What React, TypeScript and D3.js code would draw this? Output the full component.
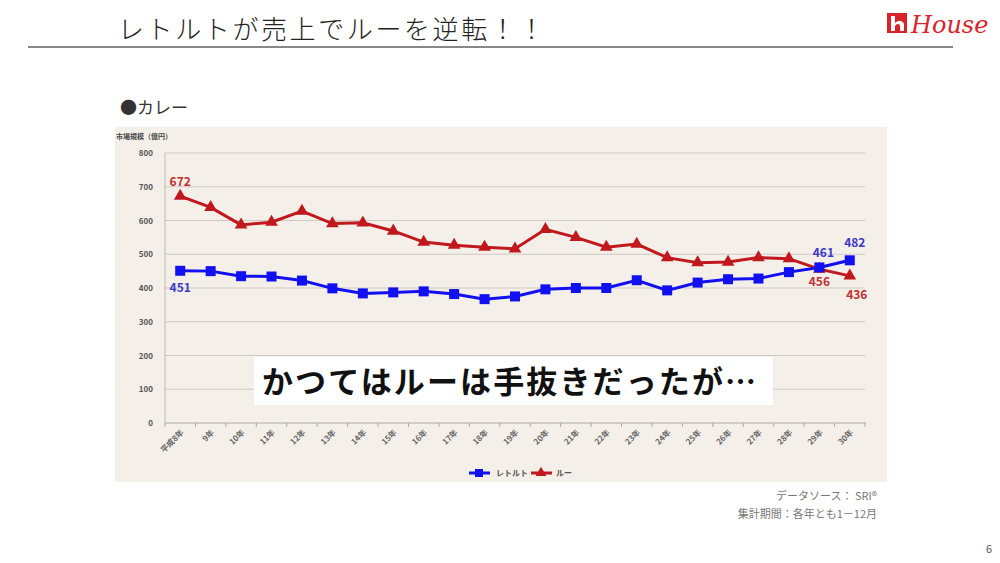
import React from "react";
import * as d3 from "d3";

const years = [
  "平成8年", "9年", "10年", "11年", "12年", "13年", "14年", "15年", "16年", "17年", "18年", "19年",
  "20年", "21年", "22年", "23年", "24年", "25年", "26年", "27年", "28年", "29年", "30年",
];
const retort = [451, 450, 435, 434, 422, 399, 384, 387, 390, 382, 367, 375, 396, 400, 400, 423, 393, 416, 426, 428, 447, 461, 482];
const roux = [672, 639, 587, 595, 628, 591, 593, 569, 536, 527, 521, 516, 574, 550, 521, 530, 490, 475, 477, 490, 487, 456, 436];
const yTicks = [0, 100, 200, 300, 400, 500, 600, 700, 800];

const FONT = "'Noto Sans CJK JP', 'Noto Sans', sans-serif";
const BLUE = "#1010f0";
const RED = "#c0181c";
const BLUE_TXT = "#3a3ac4";
const RED_TXT = "#c0302e";

export default function App() {
  const x = d3.scaleBand<string>().domain(years).range([165, 865]);
  const y = d3.scaleLinear().domain([0, 800]).range([423, 153]);
  const cx = (i: number) => (x(years[i]) as number) + x.bandwidth() / 2;

  const line = d3
    .line<number>()
    .x((_, i) => cx(i))
    .y((d) => y(d));

  const tri = d3.symbol().type(d3.symbolTriangle).size(70)();
  const last = years.length - 1;

  return (
    <svg width={1000} height={563} style={{ position: "absolute", left: 0, top: 0 }} fontFamily={FONT}>
      <rect width={1000} height={563} fill="#ffffff" />

      {/* header */}
      <text x={118} y={39} fontSize={26} fill="#222" letterSpacing={2.6} fontWeight={300}>
        レトルトが売上でルーを逆転！！
      </text>
      <line x1={28} x2={953} y1={47} y2={47} stroke="#888" strokeWidth={2} />
      <g>
        <rect x={887} y={13} width={20} height={20} fill="#d8232a" />
        <path d="M891,16 h4 v7 q3,-3 6,-2 q3,1 3,4 v6 h-4 v-5 q0,-2 -2,-2 q-2,0 -3,2 v5 h-4 z" fill="#fff" />
        <text x={911} y={33} fontSize={24} fill="#d8232a" fontStyle="italic" fontFamily="'DejaVu Serif', serif">
          House
        </text>
      </g>

      {/* chart title */}
      <text x={120} y={114} fontSize={17} fill="#333">●カレー</text>

      {/* panel */}
      <rect x={115} y={127} width={772} height={355} fill="#f5efea" />
      <text x={116} y={139} fontSize={7} fill="#444" fontWeight="bold">市場規模（億円）</text>

      {/* grid and y axis */}
      {yTicks.map((t) => (
        <g key={t}>
          {t > 0 && <line x1={165} x2={865} y1={y(t)} y2={y(t)} stroke="#cfc9c4" strokeWidth={1} />}
          <text x={153} y={y(t) + 3} fontSize={8} textAnchor="end" fill="#555" fontWeight="bold">
            {t}
          </text>
        </g>
      ))}
      <line x1={165} x2={165} y1={153} y2={423} stroke="#bbb" />
      <line x1={165} x2={866} y1={423} y2={423} stroke="#aaa" />
      {years.map((yr) => (
        <line key={"t" + yr} x1={x(yr) as number} x2={x(yr) as number} y1={423} y2={427} stroke="#aaa" />
      ))}
      <line x1={865} x2={865} y1={423} y2={427} stroke="#aaa" />
      {years.map((yr, i) => (
        <text
          key={yr}
          transform={`translate(${cx(i) + 4},${433}) rotate(-45)`}
          fontSize={8}
          textAnchor="end"
          fill="#666"
          fontWeight="bold"
        >
          {yr}
        </text>
      ))}

      {/* series */}
      <path d={line(roux) || ""} fill="none" stroke={RED} strokeWidth={3} />
      {roux.map((v, i) => (
        <path key={"r" + i} d={tri || ""} transform={`translate(${cx(i)},${y(v)})`} fill={RED} />
      ))}
      <path d={line(retort) || ""} fill="none" stroke={BLUE} strokeWidth={3} />
      {retort.map((v, i) => (
        <rect key={"b" + i} x={cx(i) - 5} y={y(v) - 5} width={10} height={10} fill={BLUE} />
      ))}

      {/* value labels */}
      <text x={cx(0)} y={y(roux[0]) - 10} fontSize={12} fontWeight="bold" fill={RED_TXT} textAnchor="middle">{roux[0]}</text>
      <text x={cx(0)} y={y(retort[0]) + 21} fontSize={12} fontWeight="bold" fill={BLUE_TXT} textAnchor="middle">{retort[0]}</text>
      <text x={cx(last - 1) + 4} y={y(retort[last - 1]) - 10} fontSize={12} fontWeight="bold" fill={BLUE_TXT} textAnchor="middle">{retort[last - 1]}</text>
      <text x={cx(last) + 5} y={y(retort[last]) - 13} fontSize={12} fontWeight="bold" fill={BLUE_TXT} textAnchor="middle">{retort[last]}</text>
      <text x={cx(last - 1)} y={y(roux[last - 1]) + 17} fontSize={12} fontWeight="bold" fill={RED_TXT} textAnchor="middle">{roux[last - 1]}</text>
      <text x={cx(last) + 7} y={y(roux[last]) + 23} fontSize={12} fontWeight="bold" fill={RED_TXT} textAnchor="middle">{roux[last]}</text>

      {/* annotation */}
      <rect x={254} y={357} width={519} height={48} fill="#ffffff" />
      <text x={262} y={393} fontSize={31} fontWeight="bold" fill="#111" textLength={494}>
        かつてはルーは手抜きだったが…
      </text>

      {/* legend */}
      <line x1={469} x2={490} y1={473} y2={473} stroke={BLUE} strokeWidth={3} />
      <rect x={475} y={469} width={8} height={8} fill={BLUE} />
      <text x={496} y={476} fontSize={8} fill="#555" fontWeight="bold">レトルト</text>
      <line x1={531} x2={552} y1={473} y2={473} stroke={RED} strokeWidth={3} />
      <path d={d3.symbol().type(d3.symbolTriangle).size(50)() || ""} transform="translate(541,473)" fill={RED} />
      <text x={556} y={476} fontSize={8} fill="#555" fontWeight="bold">ルー</text>

      {/* source */}
      <text x={877} y={500} fontSize={11} fill="#777" textAnchor="end">データソース： SRI®</text>
      <text x={877} y={518} fontSize={11} fill="#777" textAnchor="end">集計期間：各年とも1－12月</text>

      <text x={992} y={553} fontSize={11} fill="#555" textAnchor="end">6</text>
    </svg>
  );
}
